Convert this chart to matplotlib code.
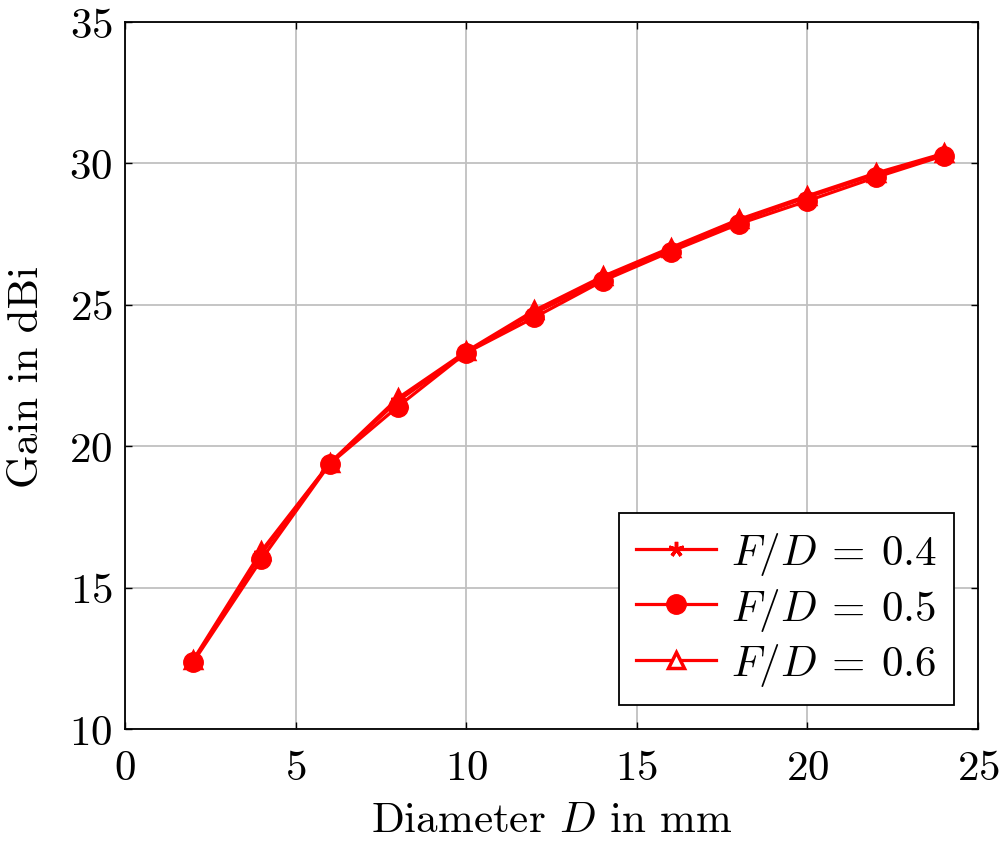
import matplotlib
matplotlib.use("Agg")
import matplotlib.pyplot as plt

plt.rcParams["font.family"] = "cmr10"
plt.rcParams["mathtext.fontset"] = "cm"
plt.rcParams["axes.formatter.use_mathtext"] = True

# diameter in mm
diameter = [2, 4, 6, 8, 10, 12, 14, 16, 18, 20, 22, 24]

# gain in dBi for each F/D ratio
gain_04 = [12.4, 16.2, 19.4, 21.6, 23.3, 24.7, 25.9, 26.95, 27.95, 28.8, 29.6, 30.3]
gain_05 = [12.37, 16.0, 19.37, 21.4, 23.3, 24.55, 25.84, 26.88, 27.86, 28.67, 29.5, 30.27]
gain_06 = [12.45, 16.3, 19.4, 21.7, 23.35, 24.8, 26.0, 27.02, 28.02, 28.85, 29.65, 30.35]

labels = [r"$F/D\:=\:0.4$", r"$F/D\:=\:0.5$", r"$F/D\:=\:0.6$"]

red = "#ff0000"
fs = 31

fig = plt.figure(figsize=(10, 8.45), dpi=100)
ax = fig.add_axes([0.125, 0.136, 0.853, 0.837])

ax.plot(diameter, gain_04, color=red, lw=2.3, marker=(5, 2, 0), ms=11, mew=2.5,
        label=labels[0], zorder=3)
ax.plot(diameter, gain_05, color=red, lw=2.3, marker="o", ms=14, mew=1,
        label=labels[1], zorder=4)
ax.plot(diameter, gain_06, color=red, lw=2.3, marker="^", ms=11, mew=2.5,
        mfc="white", label=labels[2], zorder=2)

ax.set_xlim(0, 25)
ax.set_ylim(10, 35)
ax.set_xticks([0, 5, 10, 15, 20, 25])
ax.set_yticks([10, 15, 20, 25, 30, 35])
ax.grid(True, color="#c0c0c0", lw=1.3)
ax.set_axisbelow(True)

ax.tick_params(direction="in", top=True, right=True, length=5, width=1,
               labelsize=fs)
ax.tick_params(axis="x", pad=15)
ax.tick_params(axis="y", pad=9)
for s in ax.spines.values():
    s.set_linewidth(1.3)

ax.set_xlabel(r"Diameter $D$ in mm", fontsize=fs, labelpad=10)
ax.set_ylabel("Gain in dBi", fontsize=fs, labelpad=17)

leg = ax.legend(loc="lower right", fontsize=fs, fancybox=False, framealpha=1,
                edgecolor="black", handlelength=1.85, handletextpad=0.35,
                borderpad=0.4, labelspacing=0.2, borderaxespad=0.55)
leg.get_frame().set_linewidth(1.3)

fig.savefig("out.png", dpi=100)
